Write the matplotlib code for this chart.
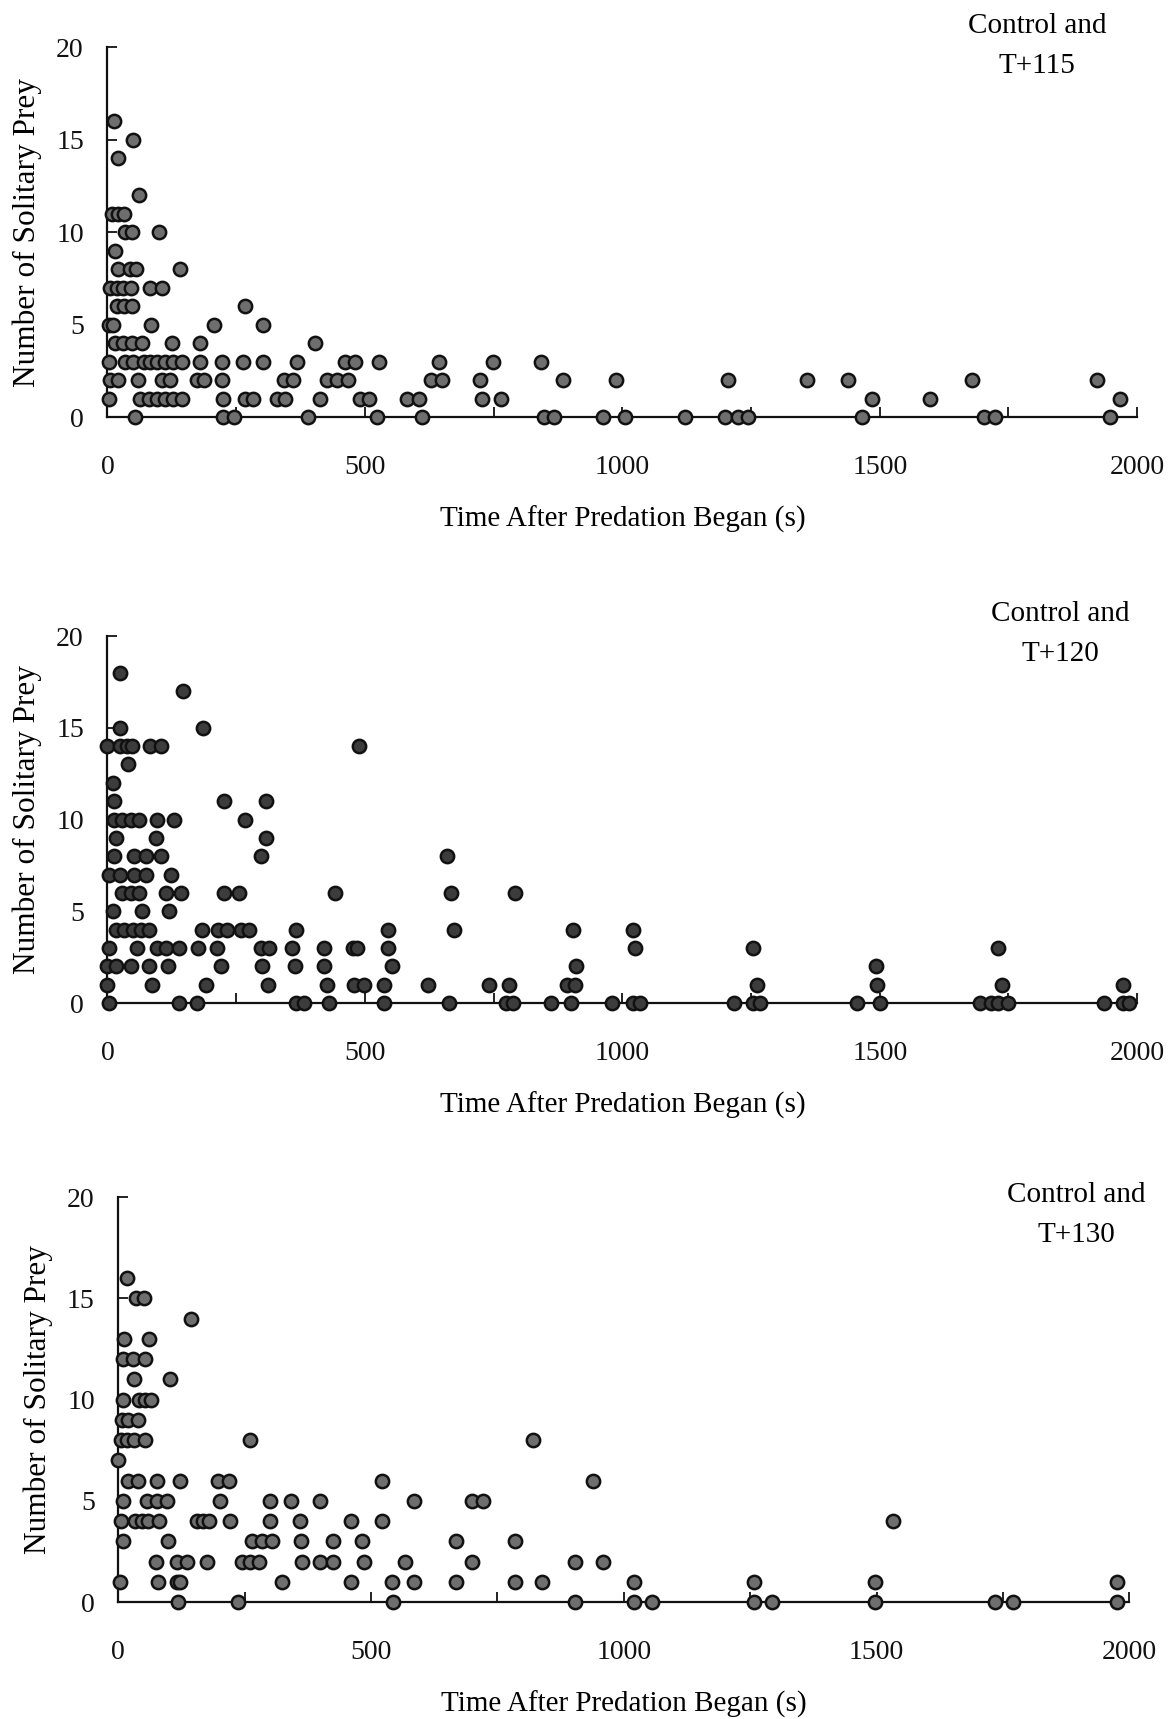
import numpy as np
import matplotlib.pyplot as plt
from matplotlib.ticker import MultipleLocator

# rows of (number of solitary prey, times in s)
t115_counts = [16, 15, 14, 12, 11, 10, 9, 8, 7, 6, 5, 4, 3, 2, 1, 0]
t115_times = [
    [12], [50], [21], [61], [8, 20, 32], [35, 48, 101], [15],
    [20, 43, 56, 140],
    [5, 18, 30, 45, 82, 105],
    [18, 32, 48, 267],
    [2, 10, 85, 207, 303],
    [15, 31, 47, 67, 125, 180, 403],
    [2, 34, 50, 70, 83, 96, 112, 128, 144, 179, 222, 264, 303, 369, 461, 481,
     528, 644, 749, 842],
    [5, 20, 60, 105, 122, 173, 188, 222, 342, 361, 426, 445, 468, 628, 650,
     724, 884, 987, 1205, 1358, 1439, 1679, 1921],
    [2, 63, 80, 96, 112, 128, 144, 225, 267, 283, 329, 345, 413, 491, 507,
     582, 605, 728, 765, 1484, 1598, 1966],
    [54, 225, 245, 390, 524, 610, 847, 867, 963, 1005, 1121, 1200, 1224, 1245,
     1465, 1703, 1723, 1947],
]

t120_counts = [18, 17, 15, 14, 13, 12, 11, 10, 9, 8, 7, 6, 5, 4, 3, 2, 1, 0]
t120_times = [
    [25], [146], [25, 186],
    [0, 24, 37, 48, 83, 103, 489],
    [39], [10], [13, 227, 307],
    [13, 29, 45, 61, 97, 129, 267],
    [16, 94, 307],
    [13, 52, 74, 104, 298, 659],
    [3, 25, 52, 74, 123],
    [29, 45, 61, 113, 142, 227, 256, 442, 667, 791],
    [10, 68, 120],
    [16, 32, 49, 65, 81, 184, 214, 233, 259, 275, 366, 544, 673, 905, 1020],
    [3, 58, 97, 113, 139, 175, 212, 298, 314, 359, 421, 476, 485, 544, 1025,
     1253, 1730],
    [0, 16, 45, 81, 118, 220, 301, 364, 421, 553, 910, 1492],
    [0, 87, 191, 311, 427, 479, 498, 537, 623, 741, 780, 892, 908, 1261, 1495,
     1738, 1973],
    [3, 139, 173, 366, 382, 430, 537, 664, 774, 788, 861, 900, 979, 1021,
     1034, 1217, 1254, 1267, 1456, 1500, 1694, 1717, 1730, 1750, 1935, 1973,
     1985],
]

t130_counts = [16, 15, 14, 13, 12, 11, 10, 9, 8, 7, 6, 5, 4, 3, 2, 1, 0]
t130_times = [
    [18], [35, 50], [143], [11, 61], [10, 28, 53], [31, 102],
    [10, 41, 53, 65], [7, 20, 38],
    [5, 18, 30, 53, 261, 820],
    [0],
    [20, 38, 76, 121, 198, 219, 521, 938],
    [10, 56, 76, 96, 201, 300, 341, 399, 584, 700, 722],
    [5, 33, 46, 59, 81, 155, 168, 180, 220, 299, 360, 460, 521, 1533],
    [10, 99, 264, 284, 303, 361, 425, 482, 668, 785],
    [75, 115, 135, 175, 244, 261, 279, 363, 399, 425, 485, 567, 700, 903, 958],
    [3, 79, 115, 122, 323, 460, 542, 584, 668, 785, 839, 1020, 1258, 1497,
     1976],
    [117, 237, 544, 903, 1020, 1055, 1258, 1293, 1497, 1735, 1770, 1976],
]

labels = ["Control and\nT+115", "Control and\nT+120", "Control and\nT+130"]

plt.rcParams['font.family'] = ['Liberation Serif', 'DejaVu Serif']
plt.rcParams['font.size'] = 20

fig = plt.figure(figsize=(11.72, 17.19), dpi=100)

# axes boxes in figure fractions (left, bottom, width, height)
boxes = [
    [0.0917, 0.7574, 0.8786, 0.2152],
    [0.0917, 0.4165, 0.8786, 0.2135],
    [0.1010, 0.0680, 0.8626, 0.2356],
]
faces = ["#6e6e6e", "#3c3c3c", "#6e6e6e"]
# where the "Control and" text sits (figure fraction, top centre)
label_pos = [(0.885, 0.9925), (0.9046, 0.6505), (0.918, 0.3125)]

panels = [(t115_counts, t115_times), (t120_counts, t120_times),
          (t130_counts, t130_times)]

for k, (counts, times) in enumerate(panels):
    xs = []
    ys = []
    for c, row in zip(counts, times):
        xs += row
        ys += [c] * len(row)
    ax = fig.add_axes(boxes[k])
    ax.scatter(xs, ys, s=92, facecolor=faces[k], edgecolor="#111111",
               linewidth=1.8, clip_on=False, zorder=3)
    ax.set_xlim(0, 2000)
    ax.set_ylim(0, 20)
    ax.xaxis.set_major_locator(MultipleLocator(500))
    ax.xaxis.set_minor_locator(MultipleLocator(250))
    ax.yaxis.set_major_locator(MultipleLocator(5))
    ax.tick_params(axis='both', which='both', direction='in', length=7,
                   width=1.3, colors='#111111', labelsize=20)
    ax.tick_params(axis='x', which='major', pad=27)
    ax.tick_params(axis='y', which='major', pad=17)
    for s in ['top', 'right']:
        ax.spines[s].set_visible(False)
    for s in ['left', 'bottom']:
        ax.spines[s].set_linewidth(1.6)
        ax.spines[s].set_color('#111111')
    ax.set_xlabel("Time After Predation Began (s)", fontsize=21, labelpad=19)
    ax.set_ylabel("Number of Solitary Prey", fontsize=22.5, labelpad=10)
    fig.text(label_pos[k][0], label_pos[k][1], labels[k], ha='center',
             va='top', fontsize=21, linespacing=1.7)

fig.savefig("out.png", dpi=100)
